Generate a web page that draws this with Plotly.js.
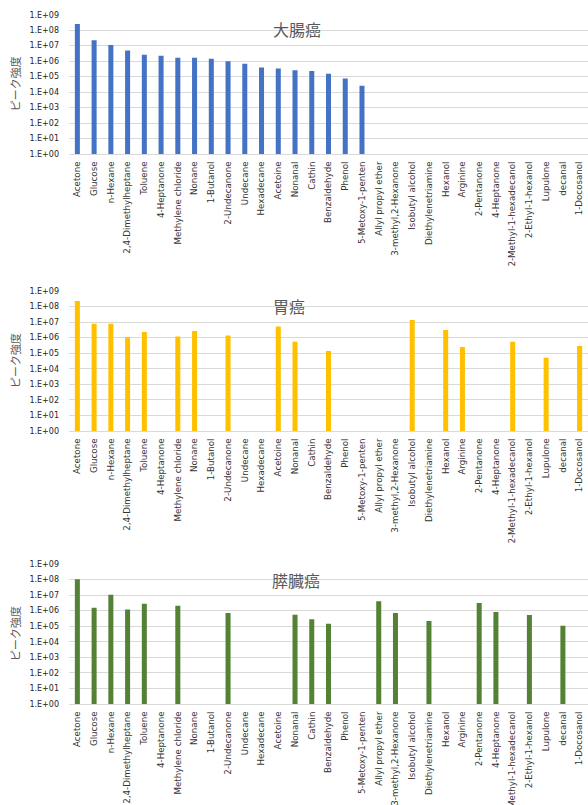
<!DOCTYPE html>
<html>
<head>
<meta charset="utf-8">
<script src="https://cdn.plot.ly/plotly-3.0.1.min.js"></script>
<style>
html, body { margin: 0; padding: 0; background: #ffffff; }
#chart { width: 588px; height: 805px; }
</style>
</head>
<body>
<div id="chart"></div>
<script>
// ---- data ----
const categories = [
  "Acetone", "Glucose", "n-Hexane", "2,4-Dimethylheptane", "Toluene", "4-Heptanone",
  "Methylene chloride", "Nonane", "1-Butanol", "2-Undecanone", "Undecane", "Hexadecane",
  "Acetoine", "Nonanal", "Cathin", "Benzaldehyde", "Phenol", "5-Metoxy-1-penten",
  "Allyl propyl ether", "3-methyl,2-Hexanone", "Isobutyl alcohol", "Diethylenetriamine",
  "Hexanol", "Arginine", "2-Pentanone", "4-Heptanone", "2-Methyl-1-hexadecanol",
  "2-Ethyl-1-hexanol", "Lupulone", "decanal", "1-Docosanol"
];

const colonValues = [
  2.5e8, 2.2e7, 1.1e7, 4.9e6, 2.6e6, 2.2e6, 1.66e6, 1.66e6, 1.43e6, 1.0e6, 6.7e5, 3.9e5,
  3.4e5, 2.6e5, 2.3e5, 1.55e5, 7.6e4, 2.6e4,
  null, null, null, null, null, null, null, null, null, null, null, null, null
];

const stomachValues = [
  2.3e8, 7.9e6, 7.9e6, 1.05e6, 2.3e6, null, 1.2e6, 2.7e6, null, 1.4e6, null, null,
  5.3e6, 5.5e5, null, 1.4e5, null, null, null, null, 1.37e7, null, 3.1e6, 2.5e5,
  null, null, 5.5e5, null, 5.2e4, null, 2.9e5
];

const pancreasValues = [
  1.05e8, 1.56e6, 1.07e7, 1.2e6, 2.8e6, null, 2.1e6, null, null, 7.1e5, null, null,
  null, 5.5e5, 2.8e5, 1.46e5, null, null, 4.0e6, 7.1e5, null, 2.2e5, null, null,
  3.1e6, 8.2e5, null, 5.3e5, null, 1.09e5, null
];

const panelTitles = ["大腸癌", "胃癌", "膵臓癌"];
const yAxisTitle = "ピーク強度";
const yTickValues = [1, 10, 100, 1e3, 1e4, 1e5, 1e6, 1e7, 1e8, 1e9];
const yTickLabels = ["1.E+00", "1.E+01", "1.E+02", "1.E+03", "1.E+04", "1.E+05", "1.E+06", "1.E+07", "1.E+08", "1.E+09"];
const colors = ["#4472C4", "#FFC000", "#548235"];

// ---- layout geometry (pixels) ----
const W = 588, H = 805;
const plotLeft = 69, plotRight = 588;
const panels = [
  { top: 14.7, bottom: 154, titleX: 297, titleY: 29 },
  { top: 291, bottom: 431, titleX: 289, titleY: 306 },
  { top: 564, bottom: 704, titleX: 295.5, titleY: 580 }
];
const seriesList = [colonValues, stomachValues, pancreasValues];
const xIdx = categories.map((_, i) => i);

const px = v => v / W;
const py = v => 1 - v / H;

const data = [];
const layout = {
  width: W, height: H,
  margin: { l: 0, r: 0, t: 0, b: 0, pad: 0 },
  paper_bgcolor: "#ffffff",
  plot_bgcolor: "#ffffff",
  showlegend: false,
  bargap: 0.7,
  annotations: []
};

panels.forEach((p, k) => {
  const n = k === 0 ? "" : String(k + 1);
  data.push({
    type: "bar",
    x: xIdx,
    y: seriesList[k],
    xaxis: "x" + n,
    yaxis: "y" + n,
    marker: { color: colors[k], line: { width: 0 } },
    hoverinfo: "skip"
  });
  layout["xaxis" + n] = {
    domain: [px(plotLeft), px(plotRight)],
    anchor: "y" + n,
    range: [-0.5, categories.length - 0.5],
    tickmode: "array",
    tickvals: xIdx,
    ticktext: categories,
    tickangle: -90,
    ticks: "",
    ticklabelstandoff: 3,
    tickfont: { family: "DejaVu Sans", size: 8.7, color: "#333333" },
    showgrid: false,
    showline: true,
    linecolor: "#d9d9d9",
    linewidth: 1,
    zeroline: false,
    fixedrange: true
  };
  layout["yaxis" + n] = {
    domain: [py(p.bottom), py(p.top)],
    anchor: "x" + n,
    type: "log",
    range: [0, 9],
    tickmode: "array",
    tickvals: yTickValues,
    ticktext: yTickLabels,
    ticks: "",
    ticklabelstandoff: 9,
    tickfont: { family: "DejaVu Sans", size: 8, color: "#262626" },
    showgrid: true,
    gridcolor: "#d9d9d9",
    gridwidth: 1,
    showline: false,
    zeroline: false,
    fixedrange: true
  };
  layout.annotations.push({
    text: panelTitles[k],
    xref: "paper", yref: "paper",
    x: px(p.titleX), y: py(p.titleY),
    xanchor: "center", yanchor: "middle",
    showarrow: false,
    font: { family: "Noto Sans CJK JP", size: 16, color: "#595959" }
  });
  layout.annotations.push({
    text: yAxisTitle,
    xref: "paper", yref: "paper",
    x: px(15), y: py((p.top + p.bottom) / 2),
    xanchor: "center", yanchor: "middle",
    textangle: -90,
    showarrow: false,
    font: { family: "Noto Sans CJK JP", size: 11, color: "#595959" }
  });
});

Plotly.newPlot("chart", data, layout, { staticPlot: true, displayModeBar: false });
</script>
</body>
</html>
